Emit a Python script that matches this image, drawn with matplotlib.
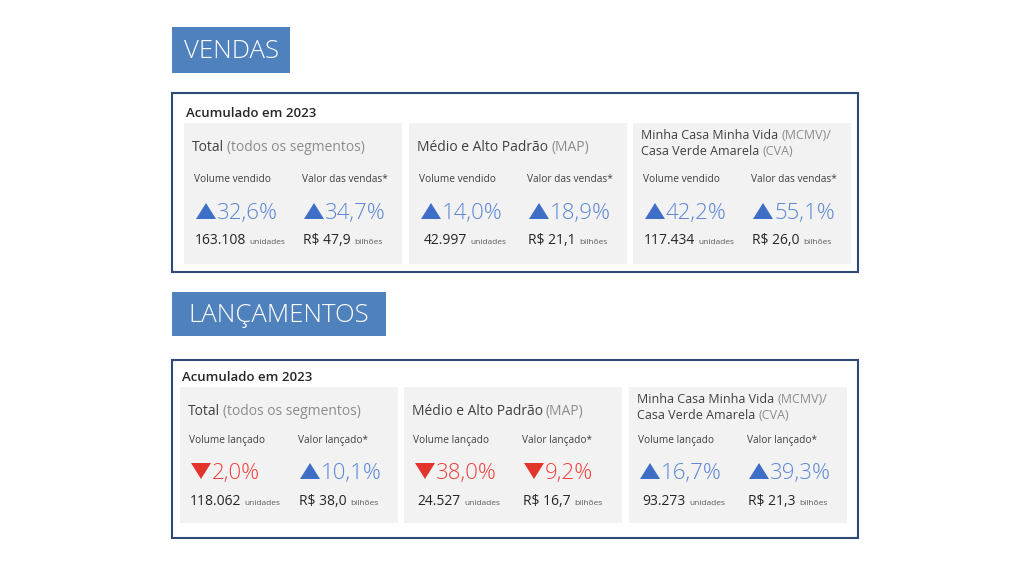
import matplotlib
matplotlib.use("Agg")
import matplotlib.pyplot as plt
from matplotlib.patches import Rectangle, Polygon

# ---------------- data ----------------
sections = ["VENDAS", "LANÇAMENTOS"]
period_label = "Acumulado em 2023"
segment_main = ["Total", "Médio e Alto Padrão", "Minha Casa Minha Vida"]
segment_note = ["(todos os segmentos)", "(MAP)", "(MCMV)/"]
segment3_line2_main = "Casa Verde Amarela"
segment3_line2_note = "(CVA)"
vendas_metrics = ["Volume vendido", "Valor das vendas*"]
lanc_metrics = ["Volume lançado", "Valor lançado*"]
vendas_volume_pct = [32.6, 14.0, 42.2]
vendas_valor_pct = [34.7, 18.9, 55.1]
vendas_unidades = [163108, 42997, 117434]
vendas_bilhoes = [47.9, 21.1, 26.0]
lanc_volume_pct = [-2.0, -38.0, 16.7]
lanc_valor_pct = [10.1, -9.2, 39.3]
lanc_unidades = [118062, 24527, 93273]
lanc_bilhoes = [38.0, 16.7, 21.3]
unit_label = "unidades"
money_label = "bilhões"

# ---------------- style ----------------
FONT = ["Open Sans", "DejaVu Sans"]
BANNER = "#4F81BD"
BORDER = "#2F4A78"
PANEL = "#F2F2F2"
DARK = "#404040"
LIGHT = "#8C8C8C"
UP_TRI = "#3F6EC6"
UP_TXT = "#5B86D6"
DN_TRI = "#E3342C"
DN_TXT = "#F0403A"

fig = plt.figure(figsize=(10.24, 5.72), dpi=100)
ax = fig.add_axes([0, 0, 1, 1])
ax.set_xlim(0, 1024)
ax.set_ylim(572, 0)
ax.axis("off")
renderer = fig.canvas.get_renderer()


def width_of(t):
    bb = t.get_window_extent(renderer)
    (x0, _), (x1, _) = ax.transData.inverted().transform([[bb.x0, bb.y0], [bb.x1, bb.y1]])
    return x1 - x0


def put(x, y, s, **kw):
    kw.setdefault("family", FONT)
    kw.setdefault("va", "baseline")
    t = ax.text(x, y, s, ha="left", **kw)
    return x + width_of(t), t


def fmt_pct(v):
    return f"{abs(v):.1f}".replace(".", ",") + "%"


def fmt_units(n):
    return f"{n:,}".replace(",", ".")


def fmt_money(v):
    return "R$ " + f"{v:.1f}".replace(".", ",")


layouts = [
    dict(banner=(172, 27, 118, 46), box=(172, 93, 686, 179), acum=(186, 117),
         ptop=123, pbot=264, lefts=[184, 409, 633], title_y=151, title2=(139, 155),
         metric_y=182, big_y=219, bottom_y=244, col_dx=[10, 118],
         metrics=vendas_metrics,
         pct=[vendas_volume_pct, vendas_valor_pct],
         units=vendas_unidades, money=vendas_bilhoes),
    dict(banner=(172, 292, 214, 44), box=(172, 360, 686, 178), acum=(182, 381),
         ptop=387, pbot=523, lefts=[180, 404, 629], title_y=415, title2=(403, 419),
         metric_y=443, big_y=479, bottom_y=505, col_dx=[9, 118],
         metrics=lanc_metrics,
         pct=[lanc_volume_pct, lanc_valor_pct],
         units=lanc_unidades, money=lanc_bilhoes),
]

PW = 218
BOTTOM_CENTER_DX = [46, 41]
for s, L in enumerate(layouts):
    bx, by, bw, bh = L["banner"]
    ax.add_patch(Rectangle((bx, by), bw, bh, facecolor=BANNER, edgecolor="none"))
    ax.text(bx + bw / 2, by + bh / 2 + 1, sections[s], color="white", fontsize=18.5,
            fontweight="light", family=FONT, ha="center", va="center")

    x0, y0, w, h = L["box"]
    ax.add_patch(Rectangle((x0, y0), w, h, facecolor="white", edgecolor=BORDER, linewidth=1.5))
    put(L["acum"][0], L["acum"][1], period_label, color="#262626", fontsize=9.5,
        fontweight="semibold")

    for i, left in enumerate(L["lefts"]):
        ax.add_patch(Rectangle((left, L["ptop"]), PW, L["pbot"] - L["ptop"],
                               facecolor=PANEL, edgecolor="none"))
        tx = left + 8
        if i < 2:
            xe, _ = put(tx, L["title_y"], segment_main[i], color=DARK, fontsize=10)
            put(xe + 3, L["title_y"], segment_note[i], color=LIGHT, fontsize=10)
        else:
            ya, yb = L["title2"]
            xe, _ = put(tx, ya, segment_main[i], color=DARK, fontsize=9)
            put(xe + 3, ya, segment_note[i], color=LIGHT, fontsize=9)
            xe, _ = put(tx, yb, segment3_line2_main, color=DARK, fontsize=9)
            put(xe + 3, yb, segment3_line2_note, color=LIGHT, fontsize=9)

        for c, dx in enumerate(L["col_dx"]):
            cx = left + dx
            put(cx, L["metric_y"], L["metrics"][c], color=DARK, fontsize=7.3)
            v = L["pct"][c][i]
            up = v >= 0
            tx0 = cx + 2
            yb = L["big_y"]
            if up:
                pts = [(tx0, yb), (tx0 + 20, yb), (tx0 + 10, yb - 16)]
            else:
                pts = [(tx0, yb - 16), (tx0 + 20, yb - 16), (tx0 + 10, yb)]
            ax.add_patch(Polygon(pts, closed=True, facecolor=UP_TRI if up else DN_TRI,
                                 edgecolor="none"))
            put(tx0 + 21, yb, fmt_pct(v),
                color=UP_TXT if up else DN_TXT, fontsize=16, fontweight="light")
            center = cx + BOTTOM_CENTER_DX[c]
            if c == 0:
                main, small = fmt_units(L["units"][i]), unit_label
            else:
                main, small = fmt_money(L["money"][i]), money_label
            t1 = ax.text(0, L["bottom_y"], main, fontsize=10, color="#262626", family=FONT,
                         va="baseline")
            t2 = ax.text(0, L["bottom_y"], small, fontsize=6, color="#595959", family=FONT,
                         va="baseline")
            w1, w2 = width_of(t1), width_of(t2)
            start = center - (w1 + 4 + w2) / 2
            t1.set_x(start)
            t2.set_x(start + w1 + 4)

fig.savefig("out.png", dpi=100)
